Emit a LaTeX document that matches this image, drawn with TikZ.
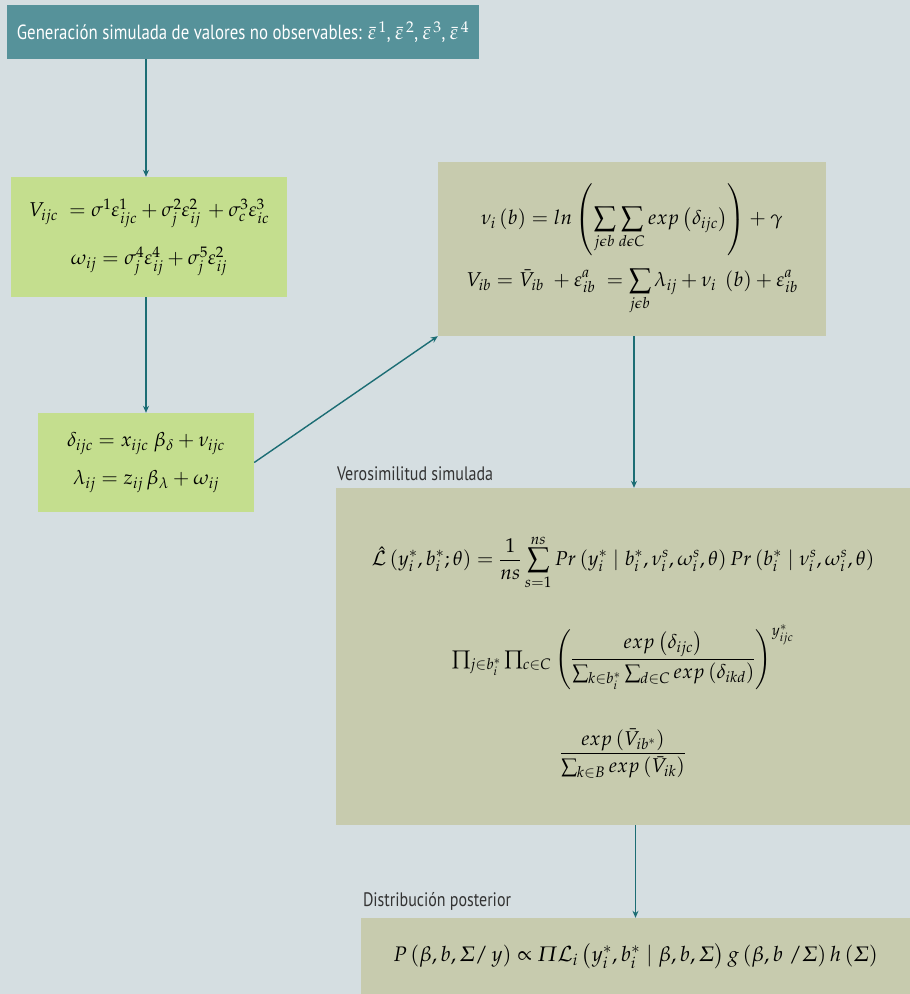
\documentclass[tikz,border=0pt]{standalone}
\usepackage{amsmath, amssymb}
\usepackage{mathpazo}
\usepackage{fontspec}
\newfontfamily\tagfont[FakeStretch=0.82]{PT Sans}
\usetikzlibrary{positioning,arrows.meta}
\definecolor{bgpaper}{HTML}{D5DEE1}
\definecolor{tealhead}{HTML}{56929A}
\definecolor{lightgreen}{HTML}{C4DE8E}
\definecolor{sagebox}{HTML}{C7CBAE}
\definecolor{arrowteal}{HTML}{1C6D74}
\tikzset{
  flowarrow/.style={-{Stealth[length=7pt,width=6pt]}, line width=1.4pt, arrowteal},
  headbox/.style={fill=tealhead, minimum width=472pt, minimum height=54pt, align=center, text=white, font=\tagfont\fontsize{20.5}{24}\selectfont},
  eqbox/.style={fill=lightgreen, align=center, font=\fontsize{20}{24}\selectfont},
  eqbox2/.style={fill=sagebox, align=center, font=\fontsize{20}{24}\selectfont},
  steptag/.style={anchor=south west, inner sep=0pt, text=black!80, font=\tagfont\fontsize{19.5}{22}\selectfont}
}
\begin{document}
\begin{tikzpicture}[x=1pt, y=-1pt]
  \useasboundingbox[fill=bgpaper] (0,0) rectangle (910,994);
  \node[headbox] (header) at (243,32) {Generación simulada de valores no observables: $\bar{\varepsilon}^{\,1}$, $\bar{\varepsilon}^{\,2}$, $\bar{\varepsilon}^{\,3}$, $\bar{\varepsilon}^{\,4}$};
  \node[eqbox, minimum width=276pt, minimum height=120pt] (errors) at (149,237) {%
    $V_{ijc}\;=\sigma^{1}\varepsilon^{1}_{ijc}+\sigma^{2}_{j}\varepsilon^{2}_{ij}\,+\sigma^{3}_{c}\varepsilon^{3}_{ic}$\\[18pt]
    $\omega_{ij}=\sigma^{4}_{j}\varepsilon^{4}_{ij}+\sigma^{5}_{j}\varepsilon^{2}_{ij}$};
  \node[eqbox, minimum width=216pt, minimum height=99pt] (utility) at (146,462.5) {%
    $\delta_{ijc}=x_{ijc}\;\beta_{\delta}+\nu_{ijc}$\\[14pt]
    $\lambda_{ij}=z_{ij}\,\beta_{\lambda}+\omega_{ij}$};
  \node[eqbox2, minimum width=388pt, minimum height=174pt] (inclusive) at (632,249) {%
    $\displaystyle\nu_{i}\left(b\right)=ln\left(\sum_{j\epsilon b}\sum_{d\epsilon C}exp\left(\delta_{ijc}\right)\right)+\gamma$\\[12pt]
    $\displaystyle V_{ib}=\bar{V}_{ib}\;+\varepsilon^{a}_{ib}\;=\sum_{j\epsilon b}\lambda_{ij}+\nu_{i}\;\left(b\right)+\varepsilon^{a}_{ib}$};
  \node[eqbox2, minimum width=574pt, minimum height=337pt] (simlik) at (623,656.5) {%
    $\displaystyle\hat{\mathcal{L}}\left(y_{i}^{*},b_{i}^{*};\theta\right)=\frac{1}{ns}\sum_{s=1}^{ns}Pr\left(y_{i}^{*}\mid b_{i}^{*},\nu_{i}^{s},\omega_{i}^{s},\theta\right)Pr\left(b_{i}^{*}\mid\nu_{i}^{s},\omega_{i}^{s},\theta\right)$\\[34pt]
    $\prod_{j\in b_{i}^{*}}\prod_{c\in C}\left(\dfrac{exp\left(\delta_{ijc}\right)}{\sum_{k\in b_{i}^{*}}\sum_{d\in C}exp\left(\delta_{ikd}\right)}\right)^{y_{ijc}^{*}}$\\[38pt]
    $\dfrac{exp\left(\bar{V}_{ib^{*}}\right)}{\sum_{k\in B}exp\left(\bar{V}_{ik}\right)}$};
  \node[eqbox2, minimum width=549pt, minimum height=76pt, font=\fontsize{21}{24}\selectfont] (posterior) at (635.5,956) {%
    $P\left(\beta,b,\varSigma/\,y\right)\propto\varPi\mathcal{L}_{i}\left(y_{i}^{*},b_{i}^{*}\mid\beta,b,\varSigma\right)g\left(\beta,b\;/\varSigma\right)h\left(\varSigma\right)$};
  \node[steptag] (simtag) at ([xshift=1pt,yshift=7pt]simlik.north west) {Verosimilitud simulada};
  \node[steptag] (posttag) at ([xshift=2pt,yshift=7pt]posterior.north west) {Distribución posterior};
  \draw[flowarrow] (header.south -| utility) -- (errors.north -| utility);
  \draw[flowarrow] (errors.south -| utility) -- (utility.north);
  \draw[flowarrow] (utility.east) -- (inclusive.south west);
  \draw[flowarrow] ([xshift=2pt]inclusive.south) -- ([xshift=2pt]simlik.north -| inclusive.south);
  \draw[flowarrow] (simlik.south -| posterior) -- (posterior.north);
\end{tikzpicture}
\end{document}
